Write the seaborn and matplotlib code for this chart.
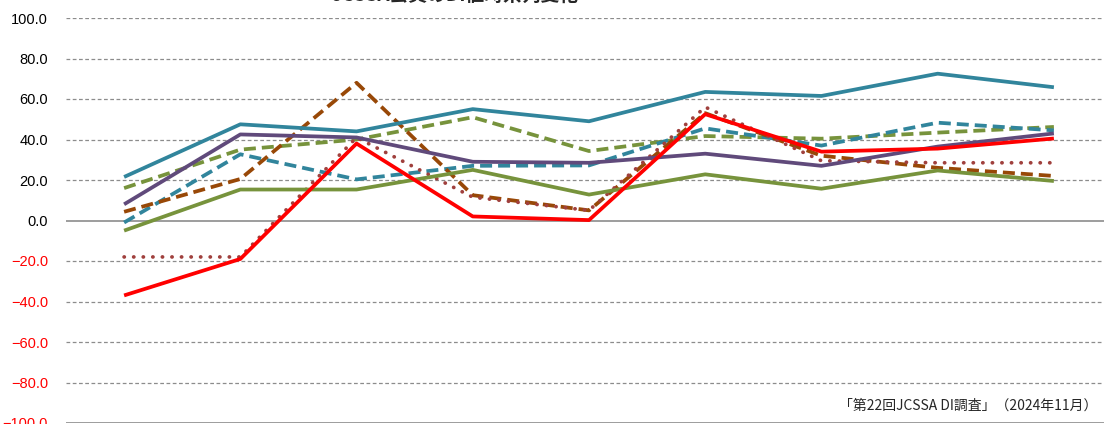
import matplotlib
matplotlib.use("Agg")
import matplotlib.pyplot as plt
import seaborn as sns
import pandas as pd

# ---- data ----
periods = ["1", "2", "3", "4", "5", "6", "7", "8", "9"]
teal_solid = [21.5, 47.5, 44.0, 55.0, 49.0, 63.5, 61.5, 72.5, 65.8]
purple_solid = [8.0, 42.5, 41.0, 29.0, 28.5, 33.0, 27.0, 36.5, 43.0]
green_solid = [-5.0, 15.3, 15.3, 25.0, 12.8, 22.8, 15.7, 24.7, 19.5]
red_solid = [-37.0, -19.0, 38.0, 2.0, 0.2, 52.5, 34.0, 35.5, 40.5]
dotted_brown = [-18.0, -18.0, 41.0, 11.5, 5.0, 56.0, 29.5, 28.5, 28.5]
brown_dashed = [4.3, 20.5, 68.0, 12.5, 5.0, 53.0, 32.0, 26.0, 22.0]
olive_dashed = [16.0, 35.0, 40.0, 51.0, 34.3, 41.7, 40.4, 43.4, 46.2]
teal_dashed = [-1.0, 32.7, 20.3, 27.0, 27.2, 45.5, 37.0, 48.3, 44.5]

yticks = [100, 80, 60, 40, 20, 0, -20, -40, -60, -80, -100]
title = "JCSSA会員のDI値時系列変化"
source = "「第22回JCSSA DI調査」（2024年11月）"

series = [
    ("olive_dashed", olive_dashed, "#77933C", (0, (3.2, 1.6)), "butt"),
    ("teal_dashed", teal_dashed, "#31859C", (0, (3.2, 1.6)), "butt"),
    ("brown_dashed", brown_dashed, "#984807", (0, (3.2, 1.6)), "butt"),
    ("dotted_brown", dotted_brown, "#A0403D", (0, (0.05, 2.5)), "round"),
    ("green_solid", green_solid, "#77933C", "-", "butt"),
    ("purple_solid", purple_solid, "#604A7B", "-", "butt"),
    ("teal_solid", teal_solid, "#31859C", "-", "butt"),
    ("red_solid", red_solid, "#FF0000", "-", "butt"),
]

sns.set_theme(style="white")
plt.rcParams["font.family"] = ["Liberation Sans", "Noto Sans CJK JP", "DejaVu Sans"]

fig = plt.figure(figsize=(11.04, 4.24), dpi=100)
ax = fig.add_axes([66 / 1104, 1 / 424, (1112 - 66) / 1104, 405 / 424])

x = list(range(len(periods)))
for name, vals, color, ls, cap in series:
    df = pd.DataFrame({"x": x, "y": vals})
    sns.lineplot(data=df, x="x", y="y", ax=ax, color=color, linestyle=ls,
                 linewidth=2.7, dash_capstyle=cap, solid_capstyle="butt",
                 zorder=3)

ax.set_xlim(-0.5, len(periods) - 0.5)
ax.set_ylim(-100, 100)
ax.set_yticks(yticks)
ax.set_yticklabels([f"{v:.1f}".replace("-", "\u2212") for v in yticks])
for lbl, v in zip(ax.get_yticklabels(), yticks):
    lbl.set_color("#FF0000" if v < 0 else "black")
    lbl.set_fontsize(10.5)
ax.tick_params(axis="y", length=0, pad=13)
ax.set_xticks([])
ax.set_xlabel("")
ax.set_ylabel("")
for s in ax.spines.values():
    s.set_visible(False)

for v in yticks:
    if v in (0, -100):
        ax.axhline(v, color="#8C8C8C", linewidth=1.2, zorder=1)
    else:
        ax.axhline(v, color="#8C8C8C", linewidth=0.9, linestyle=(0, (3, 2)), zorder=1)

fig.text(455 / 1104, 1 - 5 / 424, title, ha="center", va="bottom",
         fontsize=13.5, fontweight="bold", family=["Noto Sans CJK JP", "DejaVu Sans"])
fig.text(1097 / 1104, 1 - 406 / 424, source, ha="right", va="center",
         fontsize=10, family=["Noto Sans CJK JP", "DejaVu Sans"])

fig.savefig("out.png", dpi=100)
